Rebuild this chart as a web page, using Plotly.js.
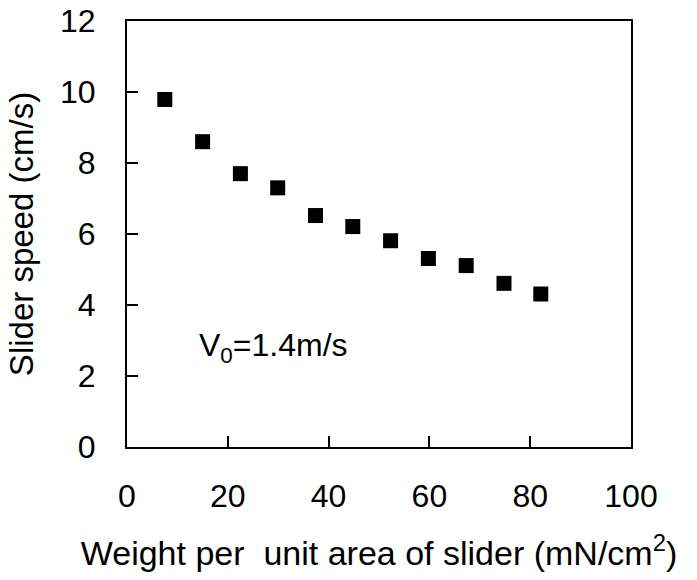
<!DOCTYPE html>
<html>
<head>
<meta charset="utf-8">
<script src="https://cdn.plot.ly/plotly-3.0.1.min.js"></script>
<style>html,body{margin:0;padding:0;background:#fff;}#chart{width:697px;height:580px;}</style>
</head>
<body>
<div id="chart"></div>
<script>
// Data
const weightPerArea = [7.5, 15.0, 22.5, 29.9, 37.4, 44.8, 52.3, 59.8, 67.3, 74.8, 82.1];
const sliderSpeed   = [9.79, 8.60, 7.70, 7.30, 6.52, 6.21, 5.81, 5.31, 5.11, 4.61, 4.31];
const xTickVals = [0, 20, 40, 60, 80, 100];
const yTickVals = [0, 2, 4, 6, 8, 10, 12];
const xTitle = "Weight per  unit area of slider (mN/cm<sup>2</sup>)";
const yTitle = "Slider speed (cm/s)";
const noteText = "V<sub>0</sub>=1.4m/s";

const FONT = "Liberation Sans, Arial, Helvetica, sans-serif";

const trace = {
  x: weightPerArea,
  y: sliderSpeed,
  type: "scatter",
  mode: "markers",
  marker: {symbol: "square", size: 15, color: "#000"},
  showlegend: false,
  hoverinfo: "x+y"
};

const axisCommon = {
  showline: true, linecolor: "#000", linewidth: 2, mirror: true,
  ticks: "inside", ticklen: 11, tickwidth: 2, tickcolor: "#000",
  showgrid: false, zeroline: false,
  tickfont: {family: FONT, size: 32, color: "#000"}
};

const layout = {
  width: 697, height: 580,
  margin: {l: 127, r: 66, t: 21, b: 133},
  paper_bgcolor: "#fff", plot_bgcolor: "#fff",
  font: {family: FONT, color: "#000"},
  xaxis: Object.assign({}, axisCommon, {
    range: [0, 100], tickvals: xTickVals, ticktext: xTickVals.map(String),
    ticklabelstandoff: 20,
    title: {text: xTitle, font: {family: FONT, size: 34, color: "#000"}, standoff: 28}
  }),
  yaxis: Object.assign({}, axisCommon, {
    range: [0, 12], tickvals: yTickVals, ticktext: yTickVals.map(String),
    ticklabelstandoff: 23,
    title: {text: yTitle, font: {family: FONT, size: 33, color: "#000"}, standoff: 16}
  }),
  annotations: [{
    x: 13.9, y: 2.8, xref: "x", yref: "y", xanchor: "left", yanchor: "middle",
    text: noteText, showarrow: false,
    font: {family: FONT, size: 32, color: "#000"}
  }]
};

Plotly.newPlot("chart", [trace], layout, {displayModeBar: false, staticPlot: true});
</script>
</body>
</html>
